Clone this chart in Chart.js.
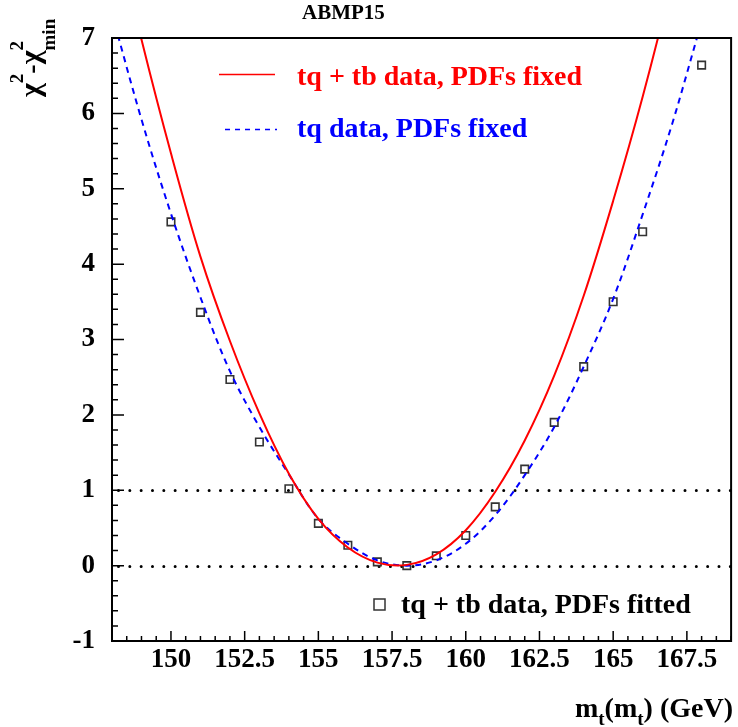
<!DOCTYPE html>
<html>
<head>
<meta charset="utf-8">
<title>ABMP15 top mass scan</title>
<script src="https://cdn.jsdelivr.net/npm/chart.js@4.4.1/dist/chart.umd.min.js"></script>
<style>
  html, body { margin: 0; padding: 0; background: #fff; }
  #wrap { width: 738px; height: 727px; }
</style>
</head>
<body>
<div id="wrap"><canvas id="chi2Chart" width="738" height="727"></canvas></div>
<script>
// m_t(m_t) grid in GeV for the two "PDFs fixed" curves
const massGrid = [148, 149, 150, 151, 152, 153, 154, 155, 156, 157, 158,
                  159, 160, 161, 162, 163, 164, 165, 166, 167, 168];
// tq + tb data, PDFs fixed (red, solid)
const chi2TqTbFixed = [8.62, 6.98, 5.47, 4.10, 2.98, 2.02, 1.22, 0.62, 0.24, 0.04, 0.01,
                       0.15, 0.47, 0.98, 1.66, 2.52, 3.58, 4.84, 6.22, 7.76, 9.45];
// tq data, PDFs fixed (blue, dashed)
const chi2TqFixed = [7.32, 5.92, 4.67, 3.56, 2.58, 1.84, 1.21, 0.62, 0.29, 0.07, 0.00,
                     0.07, 0.29, 0.67, 1.20, 1.84, 2.64, 3.54, 4.66, 5.86, 7.22];
// tq + tb data, PDFs fitted (open squares)
const fittedMass = [150, 151, 152, 153, 154, 155, 156, 157, 158, 159,
                    160, 161, 162, 163, 164, 165, 166, 168];
const chi2Fitted = [4.56, 3.36, 2.47, 1.64, 1.02, 0.56, 0.27, 0.05, 0.00, 0.13,
                    0.40, 0.78, 1.28, 1.90, 2.64, 3.50, 4.43, 6.64];

const xTickLabels = [150, 152.5, 155, 157.5, 160, 162.5, 165, 167.5];
const yTickLabels = [-1, 0, 1, 2, 3, 4, 5, 6, 7];
const refLevels = [0, 1];   // dotted horizontal lines

const FONT = '"Liberation Serif", "Times New Roman", serif';

function toPoints(xs, ys) {
    return xs.map((v, i) => ({ x: v, y: ys[i] }));
}

// draws a run of text pieces: [text, size, baselineShift, advance?]
function drawRun(ctx, parts, x, y, measureOnly) {
    let cx = x;
    parts.forEach(p => {
        const [t, size, dy, adv] = p;
        ctx.font = 'bold ' + size + 'px ' + FONT;
        if (!measureOnly) ctx.fillText(t, cx, y + dy);
        if (adv !== false) cx += ctx.measureText(t).width;
    });
    return cx - x;
}

// dotted reference lines at chi2 = 0 and 1
const refLinesPlugin = {
    id: 'refLines',
    beforeDatasetsDraw(chart) {
        const { ctx, chartArea: a, scales: { y } } = chart;
        ctx.save();
        ctx.strokeStyle = '#000';
        ctx.lineWidth = 3;
        ctx.lineCap = 'round';
        ctx.setLineDash([0, 11.33]);
        refLevels.forEach(lv => {
            const py = Math.round(y.getPixelForValue(lv)) + 0.5;
            ctx.beginPath();
            ctx.moveTo(a.left + 6.5, py);
            ctx.lineTo(a.right, py);
            ctx.stroke();
        });
        ctx.restore();
    }
};

// ROOT-like frame with ticks pointing inside
const framePlugin = {
    id: 'frameTicks',
    afterDatasetsDraw(chart) {
        const { ctx, chartArea: a, scales: { x, y } } = chart;
        ctx.save();
        ctx.strokeStyle = '#000';
        ctx.lineWidth = 1.5;
        ctx.beginPath();
        for (let v = x.min; v <= x.max + 1e-9; v += 0.5) {
            const px = x.getPixelForValue(v);
            const len = Math.abs(v / 2.5 - Math.round(v / 2.5)) < 1e-6 ? 10 : 5;
            ctx.moveTo(px, a.bottom);
            ctx.lineTo(px, a.bottom - len);
        }
        for (let v = y.min; v <= y.max + 1e-9; v += 0.2) {
            const py = y.getPixelForValue(v);
            const len = Math.abs(v - Math.round(v)) < 1e-6 ? 12 : 6;
            ctx.moveTo(a.left, py);
            ctx.lineTo(a.left + len, py);
        }
        ctx.stroke();
        ctx.lineWidth = 2;
        ctx.strokeRect(a.left, a.top, a.right - a.left, a.bottom - a.top);
        ctx.restore();
    }
};

// title, axis titles and the hand-placed legend
const textPlugin = {
    id: 'texts',
    afterDraw(chart) {
        const { ctx } = chart;
        ctx.save();
        ctx.textBaseline = 'alphabetic';
        ctx.textAlign = 'left';

        // title
        ctx.fillStyle = '#000';
        ctx.font = 'bold 21px ' + FONT;
        ctx.fillText('ABMP15', 302, 19);

        // legend, top
        ctx.lineWidth = 1.3;
        ctx.strokeStyle = '#ff0000';
        ctx.beginPath();
        ctx.moveTo(219, 74.5);
        ctx.lineTo(275, 74.5);
        ctx.stroke();
        ctx.fillStyle = '#ff0000';
        ctx.font = 'bold 28px ' + FONT;
        ctx.fillText('tq + tb data, PDFs fixed', 297, 85);

        ctx.lineWidth = 1.6;
        ctx.strokeStyle = '#0000ff';
        ctx.setLineDash([5, 5]);
        ctx.beginPath();
        ctx.moveTo(225, 129.5);
        ctx.lineTo(277, 129.5);
        ctx.stroke();
        ctx.setLineDash([]);
        ctx.fillStyle = '#0000ff';
        ctx.fillText('tq data, PDFs fixed', 297, 137);

        // legend, bottom
        ctx.strokeStyle = '#333';
        ctx.lineWidth = 1.5;
        ctx.strokeRect(374, 599, 11, 11);
        ctx.fillStyle = '#000';
        ctx.fillText('tq + tb data, PDFs fitted', 401, 613);

        // x axis title, right aligned
        const xParts = [['m', 28, 0], ['t', 19, 8], ['(m', 28, 0], ['t', 19, 8], [') (GeV)', 28, 0]];
        const w = drawRun(ctx, xParts, 0, 0, true);
        drawRun(ctx, xParts, 733 - w, 717);

        // y axis title, rotated
        ctx.translate(40, 97);
        ctx.rotate(-Math.PI / 2);
        drawRun(ctx, [['χ', 30, 0], ['2', 19, -17], ['-', 28, 0], ['χ', 30, 0],
                      ['2', 19, -17, false], ['min', 19, 15]], 0, 0);
        ctx.restore();
    }
};

new Chart(document.getElementById('chi2Chart'), {
    type: 'scatter',
    data: {
        datasets: [
            {
                label: 'tq + tb data, PDFs fixed',
                data: toPoints(massGrid, chi2TqTbFixed),
                showLine: true,
                borderColor: '#ff0000',
                borderWidth: 2,
                pointRadius: 0,
                tension: 0.35,
                fill: false
            },
            {
                label: 'tq data, PDFs fixed',
                data: toPoints(massGrid, chi2TqFixed),
                showLine: true,
                borderColor: '#0000ff',
                borderWidth: 2,
                borderDash: [6, 5],
                pointRadius: 0,
                tension: 0.35,
                fill: false
            },
            {
                label: 'tq + tb data, PDFs fitted',
                data: toPoints(fittedMass, chi2Fitted),
                showLine: false,
                pointStyle: 'rect',
                pointRadius: 5.3,
                pointBorderWidth: 1.6,
                borderColor: '#333',
                backgroundColor: 'rgba(255,255,255,0)'
            }
        ]
    },
    options: {
        responsive: false,
        animation: false,
        events: [],
        layout: { padding: { top: 38, right: 3, left: 0, bottom: 0 } },
        scales: {
            x: {
                type: 'linear',
                min: 148,
                max: 169,
                afterFit: s => { s.height = 86; },
                afterBuildTicks: s => { s.ticks = xTickLabels.map(v => ({ value: v })); },
                grid: { display: false, drawTicks: false },
                border: { display: false },
                ticks: {
                    autoSkip: false,
                    maxRotation: 0,
                    padding: 3,
                    color: '#000',
                    font: { family: FONT, size: 27, weight: 'bold' },
                    callback: v => String(v)
                }
            },
            y: {
                type: 'linear',
                min: -1,
                max: 7,
                afterFit: s => { s.width = 112; },
                afterBuildTicks: s => { s.ticks = yTickLabels.map(v => ({ value: v })); },
                grid: { display: false, drawTicks: false },
                border: { display: false },
                ticks: {
                    autoSkip: false,
                    padding: 17,
                    color: '#000',
                    font: { family: FONT, size: 27, weight: 'bold' },
                    callback: v => String(v)
                }
            }
        },
        plugins: {
            legend: { display: false },
            tooltip: { enabled: false },
            title: { display: false }
        }
    },
    plugins: [refLinesPlugin, framePlugin, textPlugin]
});
</script>
</body>
</html>
